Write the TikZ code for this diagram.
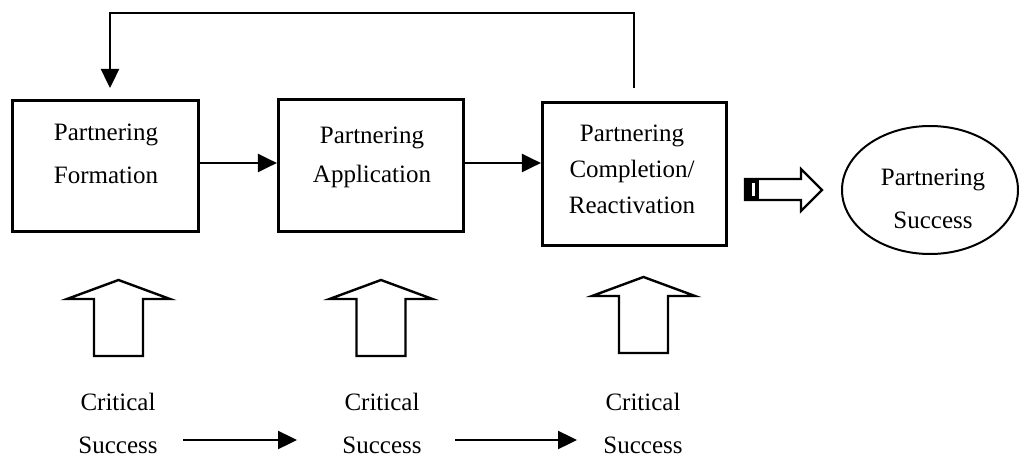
\documentclass[tikz,border=0pt]{standalone}
\usepackage{fontspec}
\setmainfont{Liberation Serif}
\usetikzlibrary{arrows.meta,shapes.geometric}
\begin{document}
\begin{tikzpicture}[x=1pt,y=-1pt,
  stagebox/.style={draw, rectangle, line width=3.2pt, inner sep=0pt},
  txt/.style={align=center, inner sep=0pt, font=\fontsize{25}{#1}\selectfont},
  txt/.default=43,
  flow/.style={line width=2.4pt, line join=miter, -{Triangle[length=19pt,width=18pt]}},
  hollowup/.pic={
    \draw[line width=2.4pt, line join=miter]
      (-24.5,76) -- (-24.5,19) -- (-51.5,19) -- (0,0) -- (51.5,19)
      -- (24.5,19) -- (24.5,76) -- cycle;
  }]
\useasboundingbox (0,0) rectangle (1019,457);

% stage boxes
\node[stagebox, minimum width=186pt, minimum height=131pt] (form) at (105.5,166) {};
\node[stagebox, minimum width=185pt, minimum height=132pt] (appl) at (371,165.5) {};
\node[stagebox, minimum width=184pt, minimum height=143pt] (comp) at (634.5,174) {};

% box texts
\node[txt] (formtxt) at (106,153.5) {Partnering\\Formation};
\node[txt=39] (appltxt) at (372,157) {Partnering\\Application};
\node[txt=36] (comptxt) at (632,169.5) {Partnering\\Completion/\\Reactivation};

% outcome
\node[draw, ellipse, line width=2pt, inner sep=0pt,
      minimum width=176pt, minimum height=128pt] (succ) at (930,190) {};
\node[txt] (succtxt) at (933,198.5) {Partnering\\Success};

% flow between stages
\draw[flow] ([yshift=3pt]form.east) -- ([yshift=3pt]form.east -| appl.west);
\draw[flow] ([yshift=2.5pt]appl.east) -- ([yshift=2.5pt]appl.east -| comp.west);

% feedback loop
\coordinate (fbstart) at (634,88);
\coordinate (fbcorner) at (634,13);
\coordinate (fbend) at (110,88);
\draw[flow] (fbstart) -- (fbcorner) -| (fbend);

% hollow arrow towards success
\draw[line width=2.2pt, line join=miter]
  (745,179) -- (801,179) -- (801,169) -- (822,190) -- (801,211)
  -- (801,200) -- (745,200) -- cycle;
\fill (745,179) rectangle (759,200);
\fill[white] (752,183) rectangle (754.5,196);

% critical success factors
\node[txt] (crit1) at (118,423.5) {Critical\\Success};
\node[txt] (crit2) at (382,423.5) {Critical\\Success};
\node[txt] (crit3) at (643,423.5) {Critical\\Success};

\pic (up1) at (118.5,280) {hollowup};
\pic (up2) at (381,280) {hollowup};
\pic (up3) at (643.5,277) {hollowup};

\coordinate (c1a) at (183,440);
\coordinate (c1b) at (297,440);
\coordinate (c2a) at (455,440);
\coordinate (c2b) at (577,440);
\draw[flow] (c1a) -- (c1b);
\draw[flow] (c2a) -- (c2b);
\end{tikzpicture}
\end{document}
